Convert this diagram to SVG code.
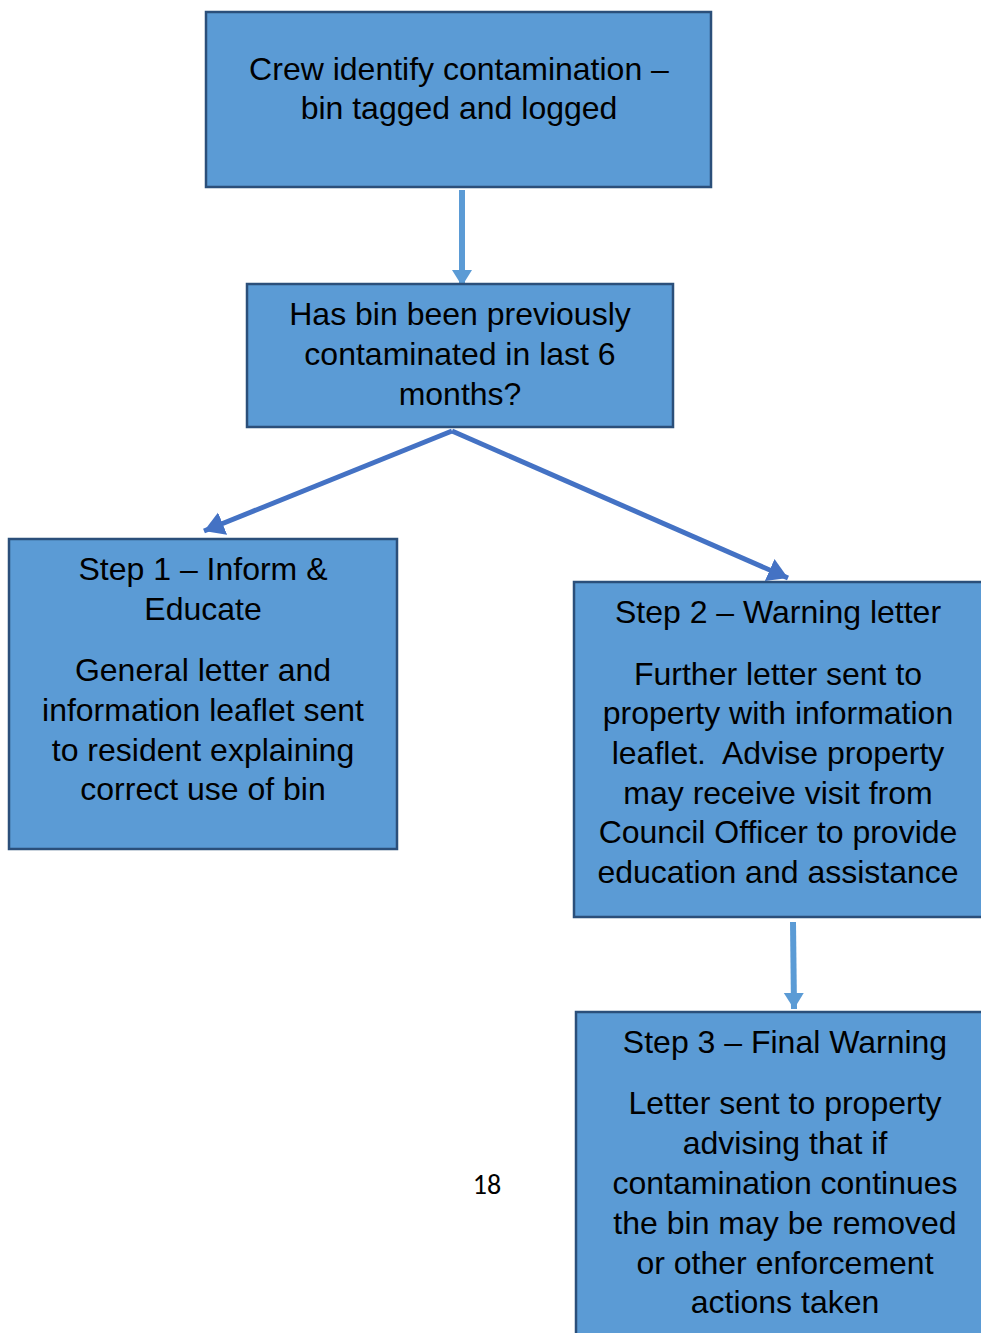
<svg xmlns="http://www.w3.org/2000/svg" width="981" height="1333" viewBox="0 0 981 1333">
<style>
.box{fill:#5B9BD5;stroke:#2B4F7A;stroke-width:2.5}
.t{font-family:"Liberation Sans",Arial,sans-serif;font-size:32px;fill:#000;text-anchor:middle}
.pg{font-family:"Carlito","Liberation Sans",sans-serif;font-size:28px;fill:#000;text-anchor:middle}
</style>
<defs>
<marker id="ha" markerUnits="userSpaceOnUse" markerWidth="20" markerHeight="22" refX="16" refY="10" orient="auto"><path d="M0,0 L16,10 L0,20 Z" fill="#5B9BD5"/></marker>
<marker id="hb" markerUnits="userSpaceOnUse" markerWidth="24" markerHeight="26" refX="20" refY="12" orient="auto"><path d="M0,0 L20,12 L0,24 Z" fill="#4472C4"/></marker>
</defs>
<rect width="981" height="1333" fill="#fff"/>
<g id="connectors">
<line x1="462" y1="190" x2="462" y2="286" stroke="#5B9BD5" stroke-width="6" marker-end="url(#ha)"/>
<line x1="452" y1="431" x2="204" y2="531" stroke="#4472C4" stroke-width="5" marker-end="url(#hb)"/>
<line x1="452" y1="431" x2="788" y2="578" stroke="#4472C4" stroke-width="5" marker-end="url(#hb)"/>
<line x1="793" y1="922" x2="794" y2="1009" stroke="#5B9BD5" stroke-width="6" marker-end="url(#ha)"/>
</g>
<g id="n1">
<rect class="box" x="206" y="12" width="505" height="175"/>
<text class="t" x="459" y="80">Crew identify contamination –</text>
<text class="t" x="459" y="119">bin tagged and logged</text>
</g>
<g id="n2">
<rect class="box" x="247" y="284" width="426" height="143"/>
<text class="t" x="460" y="325">Has bin been previously</text>
<text class="t" x="460" y="365">contaminated in last 6</text>
<text class="t" x="460" y="405">months?</text>
</g>
<g id="n3">
<rect class="box" x="9" y="539" width="388" height="310"/>
<text class="t" x="203" y="580">Step 1 – Inform &amp;</text>
<text class="t" x="203" y="620">Educate</text>
<text class="t" x="203" y="681">General letter and</text>
<text class="t" x="203" y="721">information leaflet sent</text>
<text class="t" x="203" y="761">to resident explaining</text>
<text class="t" x="203" y="800">correct use of bin</text>
</g>
<g id="n4">
<rect class="box" x="574" y="582" width="412" height="335"/>
<text class="t" x="778" y="623">Step 2 – Warning letter</text>
<text class="t" x="778" y="685">Further letter sent to</text>
<text class="t" x="778" y="724">property with information</text>
<text class="t" x="778" y="764" xml:space="preserve">leaflet.  Advise property</text>
<text class="t" x="778" y="804">may receive visit from</text>
<text class="t" x="778" y="843">Council Officer to provide</text>
<text class="t" x="778" y="883">education and assistance</text>
</g>
<g id="n5">
<rect class="box" x="576" y="1012" width="412" height="340"/>
<text class="t" x="785" y="1053">Step 3 – Final Warning</text>
<text class="t" x="785" y="1114">Letter sent to property</text>
<text class="t" x="785" y="1154">advising that if</text>
<text class="t" x="785" y="1194">contamination continues</text>
<text class="t" x="785" y="1234">the bin may be removed</text>
<text class="t" x="785" y="1274">or other enforcement</text>
<text class="t" x="785" y="1313">actions taken</text>
</g>
<text class="pg" x="487" y="1194">18</text>
</svg>
